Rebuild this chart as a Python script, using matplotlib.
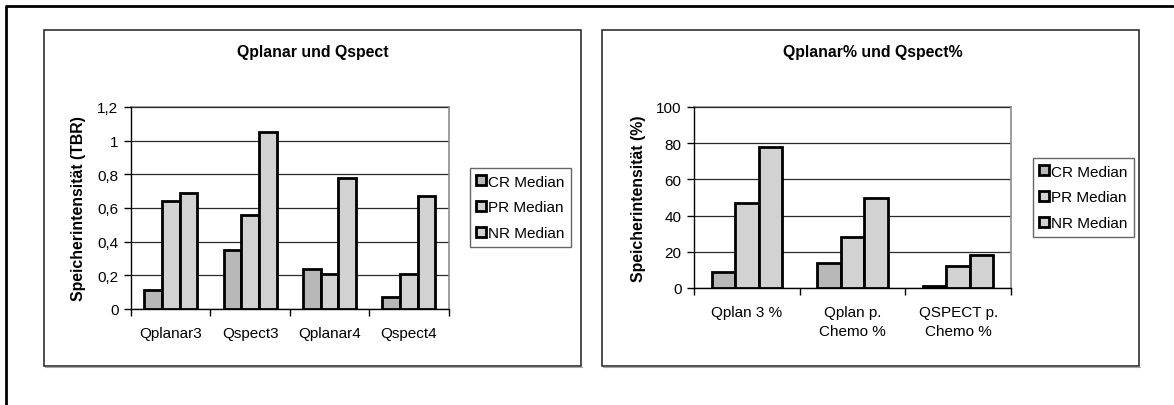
import matplotlib
matplotlib.use("Agg")
import matplotlib.pyplot as plt
from matplotlib.patches import Rectangle
from matplotlib.lines import Line2D
import numpy as np

plt.rcParams['font.family'] = ['Liberation Sans', 'DejaVu Sans']

# ---- data ----
series = ["CR Median", "PR Median", "NR Median"]
colors = ["#b8b8b8", "#d2d2d2", "#d2d2d2"]

tbr_categories = ["Qplanar3", "Qspect3", "Qplanar4", "Qspect4"]
tbr_cr = [0.11, 0.35, 0.24, 0.07]
tbr_pr = [0.64, 0.56, 0.21, 0.21]
tbr_nr = [0.69, 1.05, 0.78, 0.67]
tbr_ticks = [0, 0.2, 0.4, 0.6, 0.8, 1.0, 1.2]
tbr_ticklabels = ["0", "0,2", "0,4", "0,6", "0,8", "1", "1,2"]

pct_categories = ["Qplan 3 %", "Qplan p.\nChemo %", "QSPECT p.\nChemo %"]
pct_cr = [9, 14, 1]
pct_pr = [47, 28, 12]
pct_nr = [78, 50, 18]
pct_ticks = [0, 20, 40, 60, 80, 100]
pct_ticklabels = ["0", "20", "40", "60", "80", "100"]

W, H = 1174, 406
fig = plt.figure(figsize=(W / 100, H / 100), dpi=100)


def px_rect(x0, y0, x1, y1):
    """Figure-fraction rect from pixel coordinates (origin top-left)."""
    return [x0 / W, 1 - y1 / H, (x1 - x0) / W, (y1 - y0) / H]


# outer frame (left and top edges)
fig.add_artist(Line2D([6 / W, 6 / W], [0, 1 - 7 / H], transform=fig.transFigure,
                      color="black", lw=2.0, solid_capstyle="butt"))
fig.add_artist(Line2D([5.3 / W, 1], [1 - 7 / H, 1 - 7 / H], transform=fig.transFigure,
                      color="black", lw=2.0, solid_capstyle="butt"))

# chart boxes
for (x0, y0, x1, y1) in [(44, 31, 581, 367), (602, 31, 1139, 367)]:
    fig.add_artist(Line2D([(x0 + 1) / W, (x1 + 1) / W], [1 - (y1 + 1.0) / H] * 2,
                          transform=fig.transFigure, color="#a8a8a8", lw=0.8))
    fig.add_artist(Rectangle((x0 / W, 1 - y1 / H), (x1 - x0) / W, (y1 - y0) / H,
                             transform=fig.transFigure, fill=False,
                             edgecolor="#1e1e1e", lw=1.1))


def draw_chart(ax_rect, cats, vals, ticks, ticklabels, ylabel, title,
               title_xy, ylabel_xy, legend_xy):
    ax = fig.add_axes(ax_rect)
    n = len(cats)
    w = 1 / 4.5
    x = np.arange(n) + 0.5
    bars = []
    for k, (v, c) in enumerate(zip(vals, colors)):
        b = ax.bar(x + (k - 1) * w, v, width=w, color=c, edgecolor="black",
                   linewidth=2.0, zorder=3, label=series[k])
        bars.append(b)
    ax.set_xlim(0, n)
    ax.set_ylim(ticks[0], ticks[-1])
    ax.set_yticks(ticks)
    ax.set_yticklabels(ticklabels)
    ax.yaxis.grid(True, color="#2a2a2a", lw=0.9, zorder=1)
    ax.set_axisbelow(True)
    # category boundary ticks, labels at centres
    ax.set_xticks(np.arange(n + 1))
    ax.set_xticklabels([])
    ax.set_xticks(x, minor=True)
    ax.set_xticklabels(cats, minor=True, fontsize=11, linespacing=1.4)
    ax.tick_params(axis="x", which="major", length=5, width=1, color="black",
                   direction="out")
    ax.tick_params(axis="x", which="minor", length=0, pad=12.5)
    ax.tick_params(axis="y", length=5, width=1, color="black", pad=4,
                   labelsize=11, direction="out")
    for s in ["top", "right"]:
        ax.spines[s].set_color("#8c8c8c")
        ax.spines[s].set_linewidth(1.2)
    for s in ["left", "bottom"]:
        ax.spines[s].set_color("black")
        ax.spines[s].set_linewidth(1.0)
    ax.spines["top"].set_zorder(0.5)

    fig.text(title_xy[0] / W, 1 - title_xy[1] / H, title, ha="center",
             va="center", fontsize=11.4, fontweight="bold")
    fig.text(ylabel_xy[0] / W, 1 - ylabel_xy[1] / H, ylabel, ha="center",
             va="center", rotation=90, fontsize=11.4, fontweight="bold")

    leg = ax.legend(handles=[b.patches[0] for b in bars], labels=series,
                    loc="center left",
                    bbox_to_anchor=(legend_xy[0] / W, 1 - legend_xy[1] / H),
                    bbox_transform=fig.transFigure, fontsize=11,
                    frameon=True, fancybox=False, shadow=False,
                    handlelength=0.62, handleheight=0.62, handletextpad=0.15,
                    labelspacing=0.78, borderpad=0.42, borderaxespad=0,
                    edgecolor="#404040")
    leg.get_frame().set_linewidth(1.0)
    return ax


draw_chart(px_rect(131, 108, 448.5, 310), tbr_categories,
           [tbr_cr, tbr_pr, tbr_nr], tbr_ticks, tbr_ticklabels,
           "Speicherintensität (TBR)", "Qplanar und Qspect",
           (313, 52), (78.5, 209), (470, 208.5))

draw_chart(px_rect(694, 108, 1011, 289), pct_categories,
           [pct_cr, pct_pr, pct_nr], pct_ticks, pct_ticklabels,
           "Speicherintensität (%)", "Qplanar% und Qspect%",
           (873, 52), (638, 198.5), (1033, 198.5))

fig.savefig("out.png", dpi=100)
